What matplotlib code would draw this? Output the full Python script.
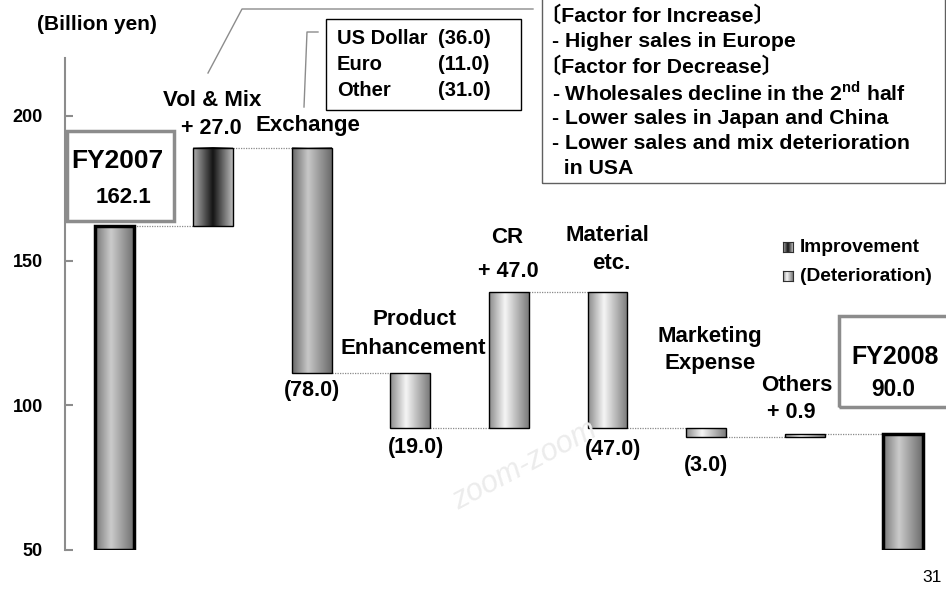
import numpy as np
import matplotlib
matplotlib.use("Agg")
import matplotlib.pyplot as plt
from matplotlib.patches import Rectangle
from matplotlib.colors import LinearSegmentedColormap

# --- data (billion yen) ---
start_label = "FY2007"
start_total = 162.1
steps = ["Vol & Mix", "Exchange", "Product\nEnhancement", "CR",
         "Material\netc.", "Marketing\nExpense", "Others"]
deltas = [27.0, -78.0, -19.0, 47.0, -47.0, -3.0, 0.9]
end_label = "FY2008"
end_total = 90.0

fx_names = ["US Dollar", "Euro", "Other"]
fx_values = [-36.0, -11.0, -31.0]

factor_lines = ["\u3014Factor for Increase\u3015",
                "- Higher sales in Europe",
                "\u3014Factor for Decrease\u3015",
                r"- Wholesales decline in the 2$^{\rm nd}$ half",
                "- Lower sales in Japan and China",
                "- Lower sales and mix deterioration",
                "  in USA"]

yticks = [50, 100, 150, 200]

# --- style ---
plt.rcParams['font.family'] = ['Liberation Sans', 'Noto Sans CJK JP', 'DejaVu Sans']
plt.rcParams['font.weight'] = 'bold'
plt.rcParams['mathtext.fontset'] = 'custom'
plt.rcParams['mathtext.rm'] = 'Liberation Sans:bold'
plt.rcParams['mathtext.bf'] = 'Liberation Sans:bold'

W, H = 946, 593
BAR_W = 0.405

shades = {
    'total': [(0, '#767676'), (0.4, '#cbcbcb'), (1, '#6c6c6c')],
    'dark': [(0, '#b0b0b0'), (0.5, '#141414'), (1, '#bababa')],
    'mid': [(0, '#676767'), (0.4, '#c8c8c8'), (1, '#6a6a6a')],
    'light': [(0, '#8a8a8a'), (0.4, '#f6f6f6'), (1, '#7a7a7a')],
}
step_shade = ['dark', 'mid', 'light', 'light', 'light', 'light', 'light']

# label offsets in pixels: (dx, dy) for each name line, anchor is bar top
name_offsets = [[(-1, 46.6)], [(-4, 21.6)], [(4, 54.2), (3, 25.2)], [(-2, 55.2)],
                [(0, 57.2), (4, 29.2)], [(4, 91.2), (4, 64.2)], [(-8, 48.3)]]
# value label offsets; anchor is bar top for increases, bar bottom for decreases
value_offsets = [(-2, 18.6), (0, -16.8), (6, -19.8), (-1, 21.2), (5.5, -21.8),
                 (0, -29.1), (-13, 21.3)]


def fig_xy(x, y):
    return x / W, 1 - y / H


def grad_bar(ax, x, y0, y1, shade, edge='black', lw=1.0):
    cmap = LinearSegmentedColormap.from_list('g', shades[shade])
    ax.imshow(np.linspace(0, 1, 256).reshape(1, -1), cmap=cmap, aspect='auto',
              extent=(x - BAR_W / 2, x + BAR_W / 2, y0, y1), zorder=2,
              interpolation='bicubic')
    ax.add_patch(Rectangle((x - BAR_W / 2, y0), BAR_W, y1 - y0, fill=False,
                           edgecolor=edge, linewidth=lw, zorder=3))


def fig_box(fig, x0, y0, x1, y1, color, lw):
    fx0, fy1 = fig_xy(x0, y1)
    fx1, fy0 = fig_xy(x1, y0)
    fig.patches.append(Rectangle((fx0, fy1), fx1 - fx0, fy0 - fy1, fill=False,
                                 edgecolor=color, linewidth=lw,
                                 transform=fig.transFigure, figure=fig, zorder=5))


fig = plt.figure(figsize=(W / 100, H / 100), dpi=100)
px_per_unit = (550 - 116) / 150
l, b = fig_xy(65, 550)
ax = fig.add_axes([l, b, (W - 65) / W, (550 - 58) / H])
ax.set_facecolor('none')

# watermark
fig.text(0.555, 0.215, "zoom-zoom", fontsize=22, style='italic', weight='normal',
         color='#ececec', rotation=28, ha='center', va='center', zorder=0)

n = len(steps) + 2
xs = np.arange(n)

# totals
grad_bar(ax, xs[0], 50, start_total, 'total', lw=2.5)
grad_bar(ax, xs[-1], 50, end_total, 'total', lw=2.5)

level = start_total
levels = [start_total]
for i, d in enumerate(deltas):
    x = xs[i + 1]
    lo, hi = sorted([level, level + d])
    grad_bar(ax, x, lo, hi, step_shade[i])
    top = hi
    for line, (dx, dy) in zip(steps[i].split("\n"), name_offsets[i]):
        ax.annotate(line, (x, top), xytext=(dx, dy), textcoords='offset pixels',
                    ha='center', va='center', fontsize=16, zorder=6)
    vtxt = "+ %.1f" % d if d > 0 else "(%.1f)" % -d
    anchor = hi if d > 0 else lo
    dx, dy = value_offsets[i]
    ax.annotate(vtxt, (x, anchor), xytext=(dx, dy), textcoords='offset pixels',
                ha='center', va='center', fontsize=15.5, zorder=6)
    level += d
    levels.append(level)

# dotted connectors
for i in range(n - 1):
    ax.plot([xs[i] + BAR_W / 2, xs[i + 1] - BAR_W / 2], [levels[i], levels[i]],
            ls=(0, (1, 1)), color='#8a8a8a', lw=0.9, zorder=1)

# total labels
ax.annotate(start_label, (xs[0], start_total), xytext=(3, 64.7),
            textcoords='offset pixels', ha='center', va='center', fontsize=19)
ax.annotate("%.1f" % start_total, (xs[0], start_total), xytext=(8.5, 27.7),
            textcoords='offset pixels', ha='center', va='center', fontsize=16)
ax.annotate(end_label, (xs[-1], end_total), xytext=(-8.3, 77.3),
            textcoords='offset pixels', ha='center', va='center', fontsize=18)
ax.annotate("%.1f" % end_total, (xs[-1], end_total), xytext=(-10.3, 44.3),
            textcoords='offset pixels', ha='center', va='center', fontsize=16.3)
fig_box(fig, 67, 131, 174, 221, '#8c8c8c', 2.5)
fig_box(fig, 839, 316, 948, 407, '#8c8c8c', 2.5)

# axes
ax.set_xlim((65 - 114.5) / 98.6, (W - 114.5) / 98.6)
ax.set_ylim(50, 50 + (550 - 58) / px_per_unit)
ax.set_yticks(yticks)
ax.set_xticks([])
for s in ['top', 'right', 'bottom']:
    ax.spines[s].set_visible(False)
ax.spines['left'].set_color('#8c8c8c')
ax.spines['left'].set_linewidth(1.5)
ax.tick_params(axis='y', direction='in', length=5.5, width=1.5, color='#8c8c8c',
               labelsize=13, pad=16)
for t in ax.get_yticklabels():
    t.set_fontweight('bold')

fig.text(*fig_xy(97, 24), "(Billion yen)", fontsize=15, ha='center', va='center')

# exchange breakdown box
fig_box(fig, 326, 19, 521, 110, 'black', 1.0)
for j, (nm, v) in enumerate(zip(fx_names, fx_values)):
    y = 39 + 25.5 * j
    fig.text(*fig_xy(337, y), nm, fontsize=14.5, ha='left', va='center')
    fig.text(*fig_xy(438, y), "(%.1f)" % -v, fontsize=14.5, ha='left', va='center')
fig.add_artist(plt.Line2D([318 / W, 307 / W, 304 / W],
                          [1 - 32 / H, 1 - 32 / H, 1 - 107 / H],
                          color='#8c8c8c', lw=1.0))

# factor box with callout
fig_box(fig, 542, -2, 945, 183, '#606060', 1.0)
for j, line in enumerate(factor_lines):
    # full-width bracket glyph carries left-side bearing, pull it back
    x0 = 540 if line.startswith("\u3014") else 552
    fig.text(*fig_xy(x0, 16 + 25.5 * j), line, fontsize=15.3, ha='left', va='center')
fig.add_artist(plt.Line2D([533 / W, 242 / W, 208 / W],
                          [1 - 9 / H, 1 - 9 / H, 1 - 73 / H],
                          color='#8c8c8c', lw=1.0))

# legend
for j, (txt, shade) in enumerate([("Improvement", 'dark'), ("(Deterioration)", 'light')]):
    y = 247 + 29 * j
    lx, ly = fig_xy(783, y + 5)
    iax = fig.add_axes([lx, ly, 10 / W, 10 / H])
    cmap = LinearSegmentedColormap.from_list('g', shades[shade])
    iax.imshow(np.linspace(0, 1, 64).reshape(1, -1), cmap=cmap, aspect='auto')
    iax.set_xticks([])
    iax.set_yticks([])
    for sp in iax.spines.values():
        sp.set_linewidth(0.8)
        sp.set_color('#303030')
    fig.text(*fig_xy(800, y), txt, fontsize=13.8, ha='left', va='center')

fig.text(*fig_xy(932, 578), "31", fontsize=12.5, weight='normal', ha='center', va='center')

fig.savefig("out.png", dpi=100)
